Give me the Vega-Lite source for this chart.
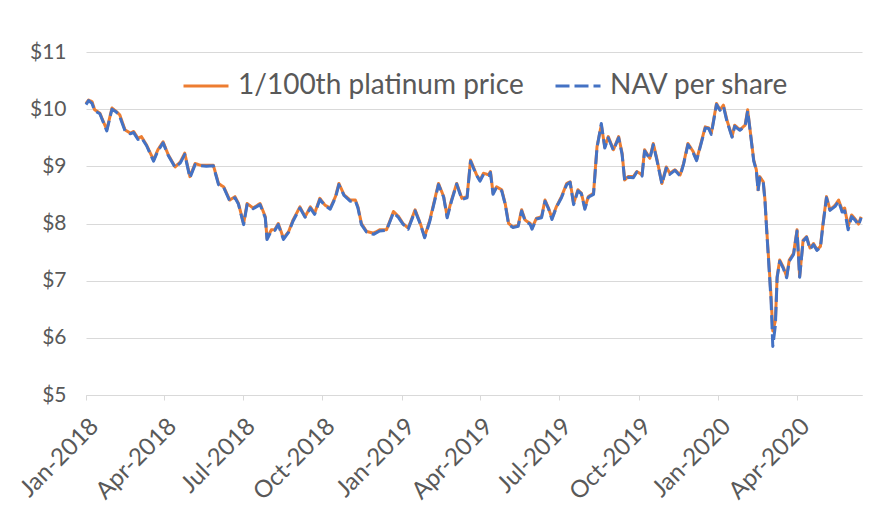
{
  "$schema": "https://vega.github.io/schema/vega-lite/v6.json",
  "width": 776,
  "height": 343,
  "autosize": "none",
  "padding": {"left": 86, "top": 52, "right": 25, "bottom": 113},
  "background": "white",
  "config": {
    "view": {"stroke": null},
    "font": "Lato",
    "axis": {"labelFont": "Lato", "labelColor": "#595959", "titleColor": "#595959"},
    "legend": {"labelFont": "Lato"}
  },
  "data": {
    "values": [
      {"d":"2018-01-01","plat":10.10,"nav":10.08},
      {"d":"2018-01-04","plat":10.16,"nav":10.15},
      {"d":"2018-01-08","plat":10.13,"nav":10.10},
      {"d":"2018-01-11","plat":9.99,"nav":9.97},
      {"d":"2018-01-17","plat":9.93,"nav":9.92},
      {"d":"2018-01-25","plat":9.64,"nav":9.62},
      {"d":"2018-01-31","plat":10.02,"nav":10.00},
      {"d":"2018-02-05","plat":9.96,"nav":9.95},
      {"d":"2018-02-09","plat":9.90,"nav":9.87},
      {"d":"2018-02-15","plat":9.64,"nav":9.62},
      {"d":"2018-02-21","plat":9.58,"nav":9.57},
      {"d":"2018-02-25","plat":9.61,"nav":9.59},
      {"d":"2018-03-02","plat":9.49,"nav":9.47},
      {"d":"2018-03-06","plat":9.52,"nav":9.50},
      {"d":"2018-03-12","plat":9.37,"nav":9.36},
      {"d":"2018-03-20","plat":9.11,"nav":9.09},
      {"d":"2018-03-25","plat":9.29,"nav":9.27},
      {"d":"2018-03-31","plat":9.43,"nav":9.41},
      {"d":"2018-04-06","plat":9.20,"nav":9.19},
      {"d":"2018-04-14","plat":8.99,"nav":8.98},
      {"d":"2018-04-20","plat":9.08,"nav":9.06},
      {"d":"2018-04-25","plat":9.23,"nav":9.21},
      {"d":"2018-05-01","plat":8.82,"nav":8.80},
      {"d":"2018-05-07","plat":9.05,"nav":9.03},
      {"d":"2018-05-13","plat":9.02,"nav":9.01},
      {"d":"2018-05-20","plat":9.02,"nav":9.00},
      {"d":"2018-05-28","plat":9.02,"nav":9.01},
      {"d":"2018-06-03","plat":8.70,"nav":8.68},
      {"d":"2018-06-09","plat":8.64,"nav":8.63},
      {"d":"2018-06-16","plat":8.41,"nav":8.39},
      {"d":"2018-06-22","plat":8.47,"nav":8.45},
      {"d":"2018-06-26","plat":8.35,"nav":8.34},
      {"d":"2018-07-02","plat":8.00,"nav":7.98},
      {"d":"2018-07-06","plat":8.35,"nav":8.33},
      {"d":"2018-07-13","plat":8.27,"nav":8.26},
      {"d":"2018-07-21","plat":8.35,"nav":8.33},
      {"d":"2018-07-27","plat":8.12,"nav":8.10},
      {"d":"2018-07-29","plat":7.74,"nav":7.72},
      {"d":"2018-08-03","plat":7.89,"nav":7.87},
      {"d":"2018-08-07","plat":7.89,"nav":7.88},
      {"d":"2018-08-11","plat":8.00,"nav":7.98},
      {"d":"2018-08-17","plat":7.74,"nav":7.72},
      {"d":"2018-08-23","plat":7.86,"nav":7.85},
      {"d":"2018-08-28","plat":8.06,"nav":8.04},
      {"d":"2018-09-05","plat":8.29,"nav":8.27},
      {"d":"2018-09-11","plat":8.12,"nav":8.11},
      {"d":"2018-09-17","plat":8.29,"nav":8.27},
      {"d":"2018-09-22","plat":8.18,"nav":8.16},
      {"d":"2018-09-28","plat":8.44,"nav":8.42},
      {"d":"2018-10-04","plat":8.32,"nav":8.31},
      {"d":"2018-10-10","plat":8.27,"nav":8.25},
      {"d":"2018-10-16","plat":8.47,"nav":8.45},
      {"d":"2018-10-20","plat":8.70,"nav":8.68},
      {"d":"2018-10-26","plat":8.50,"nav":8.49},
      {"d":"2018-11-02","plat":8.41,"nav":8.39},
      {"d":"2018-11-08","plat":8.41,"nav":8.40},
      {"d":"2018-11-11","plat":8.29,"nav":8.27},
      {"d":"2018-11-15","plat":8.00,"nav":7.98},
      {"d":"2018-11-21","plat":7.86,"nav":7.85},
      {"d":"2018-11-29","plat":7.83,"nav":7.81},
      {"d":"2018-12-06","plat":7.89,"nav":7.87},
      {"d":"2018-12-14","plat":7.89,"nav":7.88},
      {"d":"2018-12-22","plat":8.21,"nav":8.19},
      {"d":"2018-12-28","plat":8.12,"nav":8.10},
      {"d":"2019-01-02","plat":8.00,"nav":7.99},
      {"d":"2019-01-08","plat":7.92,"nav":7.90},
      {"d":"2019-01-16","plat":8.24,"nav":8.22},
      {"d":"2019-01-22","plat":8.00,"nav":7.99},
      {"d":"2019-01-27","plat":7.77,"nav":7.75},
      {"d":"2019-02-02","plat":8.06,"nav":8.04},
      {"d":"2019-02-12","plat":8.70,"nav":8.68},
      {"d":"2019-02-18","plat":8.47,"nav":8.46},
      {"d":"2019-02-22","plat":8.12,"nav":8.10},
      {"d":"2019-02-27","plat":8.41,"nav":8.39},
      {"d":"2019-03-05","plat":8.70,"nav":8.69},
      {"d":"2019-03-11","plat":8.44,"nav":8.42},
      {"d":"2019-03-17","plat":8.47,"nav":8.45},
      {"d":"2019-03-21","plat":9.11,"nav":9.09},
      {"d":"2019-03-28","plat":8.85,"nav":8.84},
      {"d":"2019-04-01","plat":8.76,"nav":8.74},
      {"d":"2019-04-05","plat":8.88,"nav":8.86},
      {"d":"2019-04-11","plat":8.85,"nav":8.84},
      {"d":"2019-04-13","plat":8.91,"nav":8.89},
      {"d":"2019-04-16","plat":8.53,"nav":8.51},
      {"d":"2019-04-20","plat":8.64,"nav":8.63},
      {"d":"2019-04-26","plat":8.59,"nav":8.57},
      {"d":"2019-04-30","plat":8.35,"nav":8.34},
      {"d":"2019-05-04","plat":8.00,"nav":7.98},
      {"d":"2019-05-09","plat":7.94,"nav":7.93},
      {"d":"2019-05-15","plat":7.97,"nav":7.95},
      {"d":"2019-05-19","plat":8.24,"nav":8.22},
      {"d":"2019-05-23","plat":8.06,"nav":8.05},
      {"d":"2019-05-29","plat":8.00,"nav":7.98},
      {"d":"2019-05-31","plat":7.92,"nav":7.90},
      {"d":"2019-06-05","plat":8.09,"nav":8.08},
      {"d":"2019-06-11","plat":8.12,"nav":8.10},
      {"d":"2019-06-15","plat":8.41,"nav":8.39},
      {"d":"2019-06-19","plat":8.27,"nav":8.26},
      {"d":"2019-06-23","plat":8.09,"nav":8.07},
      {"d":"2019-06-28","plat":8.29,"nav":8.28},
      {"d":"2019-07-04","plat":8.47,"nav":8.45},
      {"d":"2019-07-10","plat":8.70,"nav":8.68},
      {"d":"2019-07-14","plat":8.73,"nav":8.72},
      {"d":"2019-07-18","plat":8.35,"nav":8.33},
      {"d":"2019-07-23","plat":8.59,"nav":8.57},
      {"d":"2019-07-27","plat":8.53,"nav":8.52},
      {"d":"2019-07-31","plat":8.27,"nav":8.25},
      {"d":"2019-08-04","plat":8.47,"nav":8.46},
      {"d":"2019-08-10","plat":8.53,"nav":8.51},
      {"d":"2019-08-14","plat":9.34,"nav":9.32},
      {"d":"2019-08-19","plat":9.72,"nav":9.75},
      {"d":"2019-08-23","plat":9.34,"nav":9.32},
      {"d":"2019-08-27","plat":9.52,"nav":9.50},
      {"d":"2019-09-02","plat":9.29,"nav":9.28},
      {"d":"2019-09-08","plat":9.52,"nav":9.50},
      {"d":"2019-09-12","plat":9.23,"nav":9.21},
      {"d":"2019-09-15","plat":8.76,"nav":8.74},
      {"d":"2019-09-19","plat":8.82,"nav":8.81},
      {"d":"2019-09-25","plat":8.82,"nav":8.80},
      {"d":"2019-09-29","plat":8.91,"nav":8.90},
      {"d":"2019-10-05","plat":8.85,"nav":8.83},
      {"d":"2019-10-08","plat":9.29,"nav":9.27},
      {"d":"2019-10-14","plat":9.14,"nav":9.13},
      {"d":"2019-10-18","plat":9.40,"nav":9.38},
      {"d":"2019-10-22","plat":9.14,"nav":9.12},
      {"d":"2019-10-28","plat":8.70,"nav":8.69},
      {"d":"2019-11-02","plat":8.99,"nav":8.97},
      {"d":"2019-11-06","plat":8.88,"nav":8.86},
      {"d":"2019-11-12","plat":8.94,"nav":8.93},
      {"d":"2019-11-18","plat":8.85,"nav":8.83},
      {"d":"2019-11-22","plat":9.05,"nav":9.04},
      {"d":"2019-11-27","plat":9.40,"nav":9.38},
      {"d":"2019-12-03","plat":9.26,"nav":9.24},
      {"d":"2019-12-07","plat":9.11,"nav":9.10},
      {"d":"2019-12-13","plat":9.46,"nav":9.44},
      {"d":"2019-12-17","plat":9.69,"nav":9.67},
      {"d":"2019-12-21","plat":9.67,"nav":9.66},
      {"d":"2019-12-24","plat":9.58,"nav":9.56},
      {"d":"2019-12-30","plat":10.10,"nav":10.08},
      {"d":"2020-01-03","plat":9.99,"nav":9.98},
      {"d":"2020-01-07","plat":10.07,"nav":10.05},
      {"d":"2020-01-11","plat":9.81,"nav":9.79},
      {"d":"2020-01-17","plat":9.52,"nav":9.51},
      {"d":"2020-01-20","plat":9.72,"nav":9.70},
      {"d":"2020-01-26","plat":9.64,"nav":9.63},
      {"d":"2020-02-01","plat":9.72,"nav":9.70},
      {"d":"2020-02-04","plat":9.99,"nav":9.97},
      {"d":"2020-02-07","plat":9.61,"nav":9.60},
      {"d":"2020-02-11","plat":9.11,"nav":9.09},
      {"d":"2020-02-14","plat":8.94,"nav":8.93},
      {"d":"2020-02-16","plat":8.59,"nav":8.57},
      {"d":"2020-02-18","plat":8.82,"nav":8.80},
      {"d":"2020-02-22","plat":8.73,"nav":8.72},
      {"d":"2020-02-24","plat":8.41,"nav":8.39},
      {"d":"2020-02-26","plat":7.89,"nav":7.86},
      {"d":"2020-02-28","plat":7.42,"nav":7.38},
      {"d":"2020-03-02","plat":6.72,"nav":6.65},
      {"d":"2020-03-04","plat":6.12,"nav":5.85},
      {"d":"2020-03-07","plat":6.30,"nav":6.22},
      {"d":"2020-03-09","plat":7.07,"nav":7.05},
      {"d":"2020-03-12","plat":7.36,"nav":7.34},
      {"d":"2020-03-16","plat":7.24,"nav":7.22},
      {"d":"2020-03-20","plat":7.07,"nav":7.05},
      {"d":"2020-03-23","plat":7.36,"nav":7.34},
      {"d":"2020-03-28","plat":7.48,"nav":7.46},
      {"d":"2020-04-01","plat":7.89,"nav":7.87},
      {"d":"2020-04-04","plat":7.07,"nav":7.06},
      {"d":"2020-04-08","plat":7.71,"nav":7.69},
      {"d":"2020-04-12","plat":7.77,"nav":7.76},
      {"d":"2020-04-16","plat":7.57,"nav":7.55},
      {"d":"2020-04-20","plat":7.65,"nav":7.63},
      {"d":"2020-04-24","plat":7.54,"nav":7.53},
      {"d":"2020-04-28","plat":7.60,"nav":7.58},
      {"d":"2020-05-01","plat":8.00,"nav":7.98},
      {"d":"2020-05-05","plat":8.47,"nav":8.45},
      {"d":"2020-05-09","plat":8.24,"nav":8.23},
      {"d":"2020-05-15","plat":8.32,"nav":8.30},
      {"d":"2020-05-19","plat":8.41,"nav":8.39},
      {"d":"2020-05-23","plat":8.24,"nav":8.20},
      {"d":"2020-05-26","plat":8.27,"nav":8.22},
      {"d":"2020-05-30","plat":7.95,"nav":7.89},
      {"d":"2020-06-03","plat":8.15,"nav":8.12},
      {"d":"2020-06-07","plat":8.08,"nav":8.06},
      {"d":"2020-06-11","plat":7.99,"nav":7.97},
      {"d":"2020-06-14","plat":8.12,"nav":8.10}
    ],
    "format": {"parse": {"d": "date:'%Y-%m-%d'"}}
  },
  "transform": [
    {"fold": ["plat", "nav"], "as": ["series", "value"]}
  ],
  "mark": {"type": "line", "strokeWidth": 3, "strokeCap": "butt", "strokeJoin": "round"},
  "encoding": {
    "x": {
      "field": "d",
      "type": "temporal",
      "scale": {"domain": [{"year": 2018, "month": 1, "date": 1}, {"year": 2020, "month": 6, "date": 15}]},
      "axis": {
        "title": null,
        "values": [
          {"year": 2018, "month": 1, "date": 1}, {"year": 2018, "month": 4, "date": 1},
          {"year": 2018, "month": 7, "date": 1}, {"year": 2018, "month": 10, "date": 1},
          {"year": 2019, "month": 1, "date": 1}, {"year": 2019, "month": 4, "date": 1},
          {"year": 2019, "month": 7, "date": 1}, {"year": 2019, "month": 10, "date": 1},
          {"year": 2020, "month": 1, "date": 1}, {"year": 2020, "month": 4, "date": 1}
        ],
        "format": "%b-%Y",
        "labelAngle": -45,
        "labelFontSize": 24,
        "labelPadding": 14,
        "grid": false,
        "domainColor": "#d9d9d9",
        "domainWidth": 1,
        "tickColor": "#d9d9d9",
        "tickSize": 5,
        "labelOverlap": false,
        "labelBound": false,
        "labelFlush": false
      }
    },
    "y": {
      "field": "value",
      "type": "quantitative",
      "scale": {"domain": [5, 11], "nice": false, "zero": false},
      "axis": {
        "title": null,
        "values": [5, 6, 7, 8, 9, 10, 11],
        "labelExpr": "'$' + datum.value",
        "labelFontSize": 21,
        "labelPadding": 20,
        "ticks": false,
        "domain": false,
        "gridColor": "#d9d9d9",
        "gridWidth": 1
      }
    },
    "color": {
      "field": "series",
      "type": "nominal",
      "scale": {"domain": ["plat", "nav"], "range": ["#ED7D31", "#4472C4"]},
      "legend": {
        "title": null,
        "orient": "none",
        "legendX": 96,
        "legendY": 10,
        "direction": "horizontal",
        "symbolType": "stroke",
        "symbolSize": 2025,
        "symbolStrokeWidth": 3,
        "labelFontSize": 28,
        "labelLimit": 0,
        "labelColor": "#595959",
        "labelOffset": 8,
        "columnPadding": 25,
        "labelExpr": "datum.label == 'plat' ? '1/100th platinum price' : 'NAV per share'"
      }
    },
    "strokeDash": {
      "field": "series",
      "type": "nominal",
      "scale": {"domain": ["plat", "nav"], "range": [[1, 0], [14, 5]]},
      "legend": {
        "title": null,
        "orient": "none",
        "legendX": 96,
        "legendY": 10,
        "direction": "horizontal",
        "symbolType": "stroke",
        "symbolSize": 2025,
        "symbolStrokeWidth": 3,
        "labelFontSize": 28,
        "labelLimit": 0,
        "labelColor": "#595959",
        "labelOffset": 8,
        "columnPadding": 25,
        "labelExpr": "datum.label == 'plat' ? '1/100th platinum price' : 'NAV per share'"
      }
    }
  }
}
